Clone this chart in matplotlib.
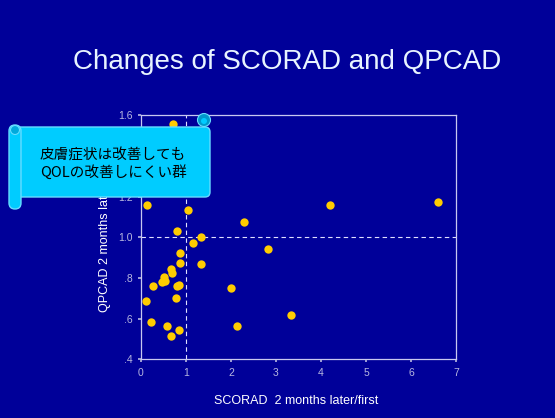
import numpy as np
import matplotlib.pyplot as plt
from matplotlib.patches import FancyBboxPatch, Circle

# SCORAD ratio (x) and QPCAD ratio (y)
scorad = [0.71, 0.13, 1.04, 2.29, 4.19, 6.61, 0.79, 1.33, 1.16, 2.82,
          0.86, 0.87, 1.34, 0.67, 0.69, 0.50, 0.53, 0.47, 0.27, 0.84,
          0.79, 1.99, 0.10, 0.77, 3.33, 0.22, 0.57, 2.14, 0.84, 0.66]
qpcad = [1.557, 1.159, 1.134, 1.074, 1.159, 1.175, 1.030, 1.002, 0.972, 0.941,
         0.925, 0.875, 0.867, 0.843, 0.823, 0.807, 0.787, 0.782, 0.759, 0.766,
         0.759, 0.749, 0.689, 0.700, 0.620, 0.584, 0.566, 0.566, 0.543, 0.513]

xticks = [0, 1, 2, 3, 4, 5, 6, 7]
yticks = [0.4, 0.6, 0.8, 1.0, 1.2, 1.4, 1.6]
ylabels = ['.4', '.6', '.8', '1.0', '1.2', '1.4', '1.6']

bg = '#000099'
W, H = 555, 418
plt.rcParams['font.family'] = ['Liberation Sans', 'DejaVu Sans']

fig = plt.figure(figsize=(W / 100, H / 100), dpi=100, facecolor=bg)
ax = fig.add_axes([141 / W, 1 - 359.3 / H, 315 / W, 244 / H], facecolor=bg)

ax.scatter(scorad, qpcad, s=36, color='#FFCC00', zorder=3, linewidths=0)
ax.axvline(1, color='#E0E0FF', lw=0.8, ls=(0, (4, 3)), zorder=2)
ax.axhline(1, color='#E0E0FF', lw=0.8, ls=(0, (4, 3)), zorder=2)

ax.set_xlim(0, 7)
ax.set_ylim(0.4, 1.6)
ax.set_xticks(xticks)
ax.set_yticks(yticks)
ax.set_yticklabels(ylabels)
for s in ax.spines.values():
    s.set_color('#C8C8F0')
    s.set_linewidth(0.9)
ax.tick_params(colors='#B8B8E0', labelsize=7.5, length=2, width=1.2, pad=4)

fig.text(296 / W, 1 - 401 / H, 'SCORAD  2 months later/first', color='white',
         fontsize=9, ha='center', va='center')
fig.text(105 / W, 1 - 236 / H, 'QPCAD 2 months later/first', color='white',
         fontsize=9, ha='center', va='center', rotation=90)
fig.text(287 / W, 1 - 62 / H, 'Changes of SCORAD and QPCAD', color='#E8F4FF',
         fontsize=20, ha='center', va='center')

# callout scroll drawn in pixel coordinates on an overlay
ov = fig.add_axes([0, 0, 1, 1], facecolor='none', zorder=10)
ov.set_xlim(0, W)
ov.set_ylim(H, 0)
ov.axis('off')

body = FancyBboxPatch((14, 127), 196, 70, boxstyle='round,pad=0,rounding_size=5',
                      fc='#00CCFF', ec='#66DDFF', lw=1)
ov.add_patch(body)
roll = FancyBboxPatch((9, 125), 12, 84, boxstyle='round,pad=0,rounding_size=6',
                      fc='#00CCFF', ec='#66DDFF', lw=1)
ov.add_patch(roll)
ov.add_patch(Circle((15, 130), 4.5, fc='#00AADD', ec='#66DDFF', lw=0.8))
ov.add_patch(Circle((204, 120), 6.5, fc='#0099CC', ec='#66DDFF', lw=0.8))
ov.add_patch(Circle((204, 121), 3, fc='#00CCFF', ec='none'))

ov.text(40, 164, '皮膚症状は改善しても\nQOLの改善しにくい群', color='black',
        fontsize=10.5, family=['Noto Sans CJK JP', 'DejaVu Sans'],
        ha='left', va='center', linespacing=1.15)

fig.savefig('out.png', dpi=100, facecolor=bg)
